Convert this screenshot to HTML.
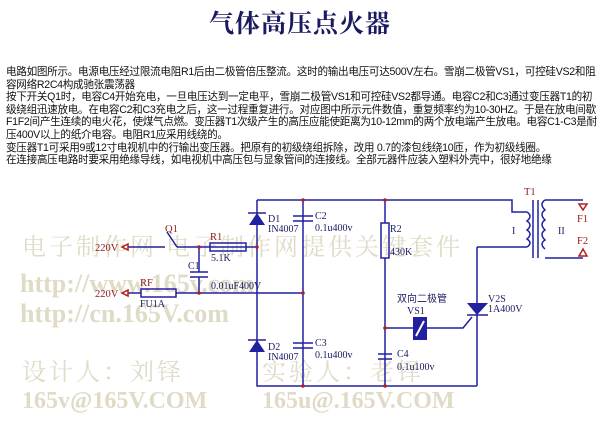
<!DOCTYPE html>
<html><head><meta charset="utf-8"><style>
body{margin:0;background:#fff;}
.w{position:relative;width:600px;height:425px;overflow:hidden;font-family:"Liberation Serif","Noto Serif CJK SC",serif;}
h1{position:absolute;top:4px;left:0;width:600px;text-align:center;margin:0;font-size:25px;font-weight:bold;color:#1a1a60;font-family:"Liberation Serif","Noto Serif CJK SC",serif;letter-spacing:1px;}
.t{position:absolute;left:6px;top:66px;width:592px;font-size:10.6px;line-height:12.6px;color:#111;font-family:"Liberation Sans","Noto Sans CJK SC",sans-serif;letter-spacing:-0.3px;white-space:nowrap;}
</style></head><body><div class="w">
<h1>气体高压点火器</h1>
<div class="t">电路如图所示。电源电压经过限流电阻R1后由二极管倍压整流。这时的输出电压可达500V左右。雪崩二极管VS1，可控硅VS2和阻<br>容网络R2C4构成驰张震荡器<br>按下开关Q1时，电容C4开始充电，一旦电压达到一定电平，雪崩二极管VS1和可控硅VS2都导通。电容C2和C3通过变压器T1的初<br>级绕组迅速放电。在电容C2和C3充电之后，这一过程重复进行。对应图中所示元件数值，重复频率约为10-30HZ。于是在放电间歇<br>F1F2间产生连续的电火花，使煤气点燃。变压器T1次级产生的高压应能使距离为10-12mm的两个放电端产生放电。电容C1-C3是耐<br>压400V以上的纸介电容。电阻R1应采用线绕的。<br>变压器T1可采用9或12寸电视机中的行输出变压器。把原有的初级绕组拆除，改用 0.7的漆包线绕10匝，作为初级线圈。<br>在连接高压电路时要采用绝缘导线，如电视机中高压包与显象管间的连接线。全部元器件应装入塑料外壳中，很好地绝缘</div>
<svg width="600" height="425" style="position:absolute;left:0;top:0" font-family="Liberation Serif,Noto Serif CJK SC,serif">
<g fill="#e0dbc6" font-weight="bold">
<text x="22" y="255" font-size="24" font-weight="normal" letter-spacing="3">电子制作网  电子制作网提供关键套件</text>
<text x="20" y="292" font-size="26">http://www.165v.com</text>
<text x="20" y="322" font-size="26">http://cn.165V.com</text>
<text x="22" y="380" font-size="24" font-weight="normal" letter-spacing="3">设计人：刘铎</text>
<text x="262" y="380" font-size="24" font-weight="normal" letter-spacing="3">实验人：老铎</text>
<text x="22" y="408" font-size="24">165v@165V.COM</text>
<text x="262" y="408" font-size="24">165u@.165V.COM</text>
</g>
<g stroke="#2020a0" stroke-width="1.5" fill="none">
<path d="M257 200V386H477M257 200H512V212H527M303 200V386M385 200V223M385 258V386M477 247V386M477 247H527M200 293H303M128 247H165M177 247H257M167 232L177 247M199 247V272M199 277V293M128 293H141M176 293H200M385 328H413M427 328H463L472 317M545 200H583M545 258H583"/>
<path d="M527 212q6 4 0 9q6 4 0 9q6 4 0 9q6 4 0 8" />
<path d="M545 200q-6 4 0 10q-6 4 0 10q-6 4 0 10q-6 4 0 10q-6 4 0 9"/>
<path d="M533 200V258M538 200V258"/>
<rect x="210" y="243" width="36" height="8"/>
<rect x="141" y="289" width="35" height="8"/>
<rect x="381" y="223" width="8" height="35"/>
<path d="M190 272H208M190 277H208M293 216H313M293 221H313M293 343H313M293 348H313M378 354H392M378 359H392"/>
<path d="M248 213H266M248 340H266M467 315H488"/>
</g>
<g fill="#2020a0">
<path d="M249 225L257 213L265 225Z M249 352L257 340L265 352Z M467 303H488L477 315Z"/>
<rect x="413" y="317" width="14" height="23"/>
</g>
<path d="M416 336L424 321" stroke="#fff" stroke-width="2"/>
<g fill="#b02020"><circle cx="199" cy="247" r="1.8"/><circle cx="257" cy="247" r="1.8"/><circle cx="199" cy="293" r="1.8"/><circle cx="303" cy="200" r="1.8"/><circle cx="303" cy="293" r="1.8"/><circle cx="303" cy="386" r="1.8"/><circle cx="385" cy="200" r="1.8"/><circle cx="385" cy="328" r="1.8"/><circle cx="385" cy="386" r="1.8"/></g>
<g stroke="#b02020" stroke-width="1.5" fill="none"><path d="M128 244L122 247L128 250Z M128 290L122 293L128 296Z M579 204H587L583 210Z M579 256H587L583 249Z"/></g>
<g fill="#8b1a1a" font-size="10.5">
<text x="95" y="251">220V</text><text x="95" y="297">220V</text>
<text x="165" y="232">Q1</text><text x="210" y="240">R1</text><text x="140" y="286">RF</text>
<text x="577" y="222">F1</text><text x="577" y="244">F2</text><text x="524" y="195">T1</text>
</g>
<g fill="#1a1a60" font-size="10">
<text x="211" y="261">5.1K</text><text x="188" y="269">C1</text><text x="211" y="289">0.01uF400V</text><text x="140" y="307">FU1A</text>
<text x="268" y="222">D1</text><text x="268" y="232">IN4007</text><text x="268" y="350">D2</text><text x="268" y="360">IN4007</text>
<text x="315" y="219">C2</text><text x="315" y="231">0.1u400v</text><text x="315" y="346">C3</text><text x="315" y="358">0.1u400v</text>
<text x="390" y="232">R2</text><text x="390" y="255">430K</text>
<text x="397" y="302" font-family="Liberation Sans,Noto Sans CJK SC,sans-serif">双向二极管</text><text x="407" y="314">VS1</text>
<text x="488" y="302">V2S</text><text x="488" y="312">1A400V</text>
<text x="397" y="357">C4</text><text x="397" y="370">0.1u100v</text>
<text x="512" y="234">I</text><text x="558" y="234">II</text>
</g>
</svg>
</div></body></html>
